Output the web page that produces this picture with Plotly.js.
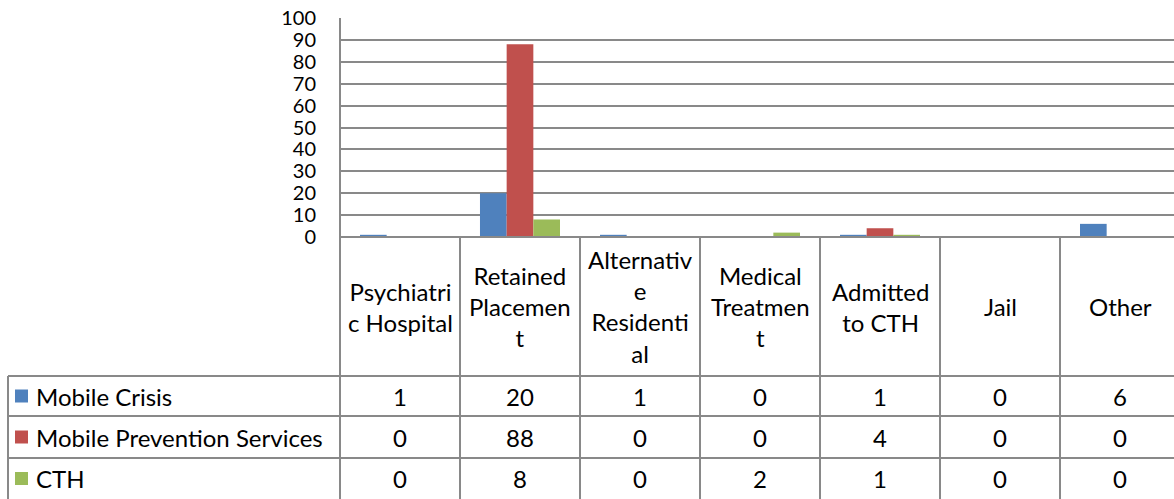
<!DOCTYPE html>
<html>
<head>
<meta charset="utf-8">
<script src="https://cdn.plot.ly/plotly-3.0.1.min.js"></script>
<style>html,body{margin:0;padding:0;background:#fff;}#chart{width:1174px;height:499px;}</style>
</head>
<body>
<div id="chart"></div>
<script>
// ---- data ----
const categories = ["Psychiatric Hospital", "Retained Placement", "Alternative Residential", "Medical Treatment", "Admitted to CTH", "Jail", "Other"];
const categoryLabels = ["Psychiatri<br>c Hospital", "Retained<br>Placemen<br>t", "Alternativ<br>e<br>Residenti<br>al", "Medical<br>Treatmen<br>t", "Admitted<br>to CTH", "Jail", "Other"];
const seriesNames = ["Mobile Crisis", "Mobile Prevention Services", "CTH"];
const mobileCrisis = [1, 20, 1, 0, 1, 0, 6];
const mobilePrevention = [0, 88, 0, 0, 4, 0, 0];
const cth = [0, 8, 0, 2, 1, 0, 0];
const seriesValues = [mobileCrisis, mobilePrevention, cth];
const seriesColors = ["#4F81BD", "#C0504D", "#9BBB59"];
const yTicks = [0, 10, 20, 30, 40, 50, 60, 70, 80, 90, 100];

// ---- layout geometry (pixels) ----
const W = 1174, H = 499;
const plotL = 340, plotT = 18, plotB = 237;
const plotW = W - plotL, plotH = plotB - plotT;
const rowY = [237, 376, 416, 458, 499]; // header bottom, row lines
const tableLeft = 8;
const gridColor = "#898989";
const fontFam = "Lato, 'Open Sans', sans-serif";
const fontSize = 24;
const tickSize = 20;

const px2paperX = p => (p - plotL) / plotW;
const px2paperY = p => (plotB - p) / plotH;

const traces = seriesNames.map((n, i) => ({
  type: "bar",
  name: n,
  x: categories,
  y: seriesValues[i],
  marker: {color: seriesColors[i], line: {width: 0}},
  hoverinfo: "x+y+name"
}));

const shapes = [];
const annotations = [];
const line = (x0, y0, x1, y1) => shapes.push({
  type: "line", xref: "paper", yref: "paper",
  x0: px2paperX(x0), y0: px2paperY(y0), x1: px2paperX(x1), y1: px2paperY(y1),
  line: {color: gridColor, width: 2}, layer: "above"
});

// horizontal table lines
line(plotL, rowY[0], W, rowY[0]);
for (let r = 1; r < rowY.length - 1; r++) line(tableLeft, rowY[r], W, rowY[r]);
// left border of legend column
line(tableLeft, rowY[1], tableLeft, H);
// plot left axis line
line(plotL, plotT, plotL, H);
// category boundaries
for (let c = 1; c < categories.length; c++) {
  shapes.push({type: "line", xref: "x", yref: "paper", x0: c - 0.5, x1: c - 0.5,
    y0: px2paperY(rowY[0]), y1: px2paperY(H), line: {color: gridColor, width: 2}, layer: "above"});
}

// header labels
categories.forEach((c, i) => {
  annotations.push({xref: "x", yref: "paper", x: i, y: px2paperY((rowY[0] + rowY[1]) / 2),
    text: categoryLabels[i], showarrow: false, xanchor: "center", yanchor: "middle",
    font: {family: fontFam, size: fontSize, color: "#000"}, align: "center"});
});

// rows
seriesNames.forEach((n, s) => {
  const yc = (rowY[s + 1] + rowY[s + 2]) / 2;
  // legend key
  shapes.push({type: "rect", xref: "paper", yref: "paper",
    x0: px2paperX(15), x1: px2paperX(28), y0: px2paperY(yc - 6.5), y1: px2paperY(yc + 6.5),
    fillcolor: seriesColors[s], line: {width: 0}});
  annotations.push({xref: "paper", yref: "paper", x: px2paperX(34), y: px2paperY(yc),
    text: n, showarrow: false, xanchor: "left", yanchor: "middle",
    font: {family: fontFam, size: fontSize, color: "#000"}});
  seriesValues[s].forEach((v, i) => {
    annotations.push({xref: "x", yref: "paper", x: i, y: px2paperY(yc),
      text: String(v), showarrow: false, xanchor: "center", yanchor: "middle",
      font: {family: fontFam, size: fontSize, color: "#000"}});
  });
});

const layout = {
  width: W, height: H,
  margin: {l: plotL, r: 0, t: plotT, b: H - plotB, pad: 0},
  paper_bgcolor: "#fff", plot_bgcolor: "#fff",
  barmode: "group", bargap: 0.333, bargroupgap: 0,
  showlegend: false,
  xaxis: {type: "category", range: [-0.5, -0.5 + plotW / 120], showticklabels: false,
    showgrid: false, zeroline: false, showline: false, ticks: ""},
  yaxis: {range: [0, 100], tickvals: yTicks, ticktext: yTicks.map(String),
    showgrid: true, gridcolor: gridColor, gridwidth: 2, zeroline: false,
    showline: false, ticks: "", ticklabelstandoff: 23,
    tickfont: {family: fontFam, size: tickSize, color: "#000"}},
  shapes: shapes,
  annotations: annotations,
  font: {family: fontFam}
};

Plotly.newPlot("chart", traces, layout, {displayModeBar: false, staticPlot: true});
</script>
</body>
</html>
